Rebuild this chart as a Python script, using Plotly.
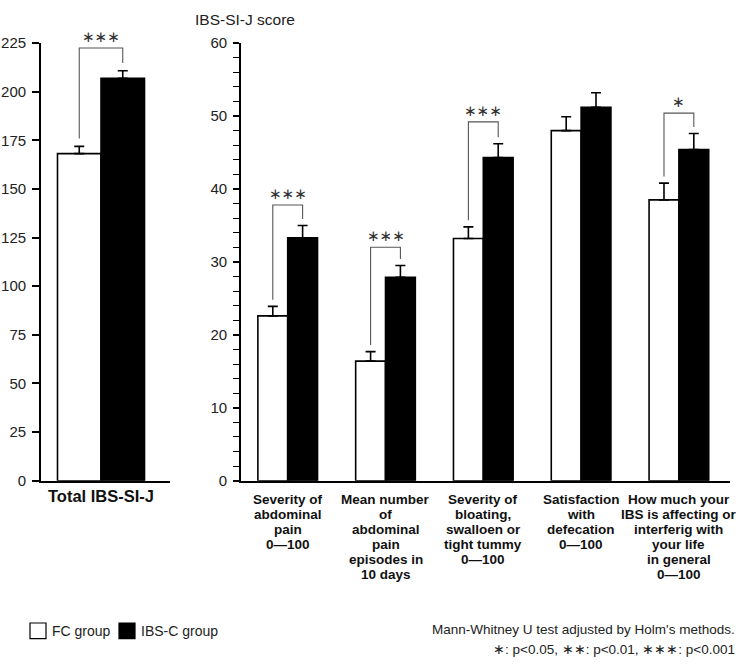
import plotly.graph_objects as go

W, H = 749, 669


def px(x):
    return x / W


def py(y):
    return 1 - y / H


FONT = "Arial, 'Liberation Sans', sans-serif"
STARFONT = "'DejaVu Sans', sans-serif"

# ---------------- data ----------------
group_names = ["FC group", "IBS-C group"]
group_fill = ["white", "black"]

total_categories = ["Total IBS-SI-J"]
total_fc = [168.2]
total_fc_err = [3.7]
total_ibs = [206.9]
total_ibs_err = [3.9]
total_bracket_top = [222.5]
total_sig = ["∗∗∗"]

sub_categories = [
    ["Severity of", "abdominal", "pain", "0—100"],
    ["Mean number", "of", "abdominal", "pain", "episodes in", "10 days"],
    ["Severity of", "bloating,", "swalloen or", "tight tummy", "0—100"],
    ["Satisfaction", "with", "defecation", "0—100"],
    ["How much your", "IBS is affecting or", "interferig with", "your life", "in general", "0—100"],
]
sub_fc = [22.6, 16.4, 33.2, 48.0, 38.5]
sub_fc_err = [1.3, 1.3, 1.6, 1.9, 2.3]
sub_ibs = [33.3, 27.9, 44.3, 51.2, 45.4]
sub_ibs_err = [1.7, 1.6, 1.9, 2.0, 2.2]
sub_bracket_top = [37.8, 32.0, 49.2, None, 50.4]
sub_sig = ["∗∗∗", "∗∗∗", "∗∗∗", "", "∗"]

left_ticks = [0, 25, 50, 75, 100, 125, 150, 175, 200, 225]
right_ticks = [0, 10, 20, 30, 40, 50, 60]

y_title = "IBS-SI-J score"
note_lines = [
    "Mann-Whitney U test adjusted by Holm's methods.",
    "∗: p&lt;0.05, ∗∗: p&lt;0.01, ∗∗∗: p&lt;0.001",
]

BARGAP = 0.39
half = (1 - BARGAP) / 4  # offset of each bar centre from category centre

fig = go.Figure()


def add_bars(xs, fc, fc_err, ibs, ibs_err, xa, ya):
    for name, fill, vals, errs in ((group_names[0], group_fill[0], fc, fc_err),
                                   (group_names[1], group_fill[1], ibs, ibs_err)):
        fig.add_trace(go.Bar(
            x=xs, y=vals, name=name, xaxis=xa, yaxis=ya,
            marker=dict(color=fill, line=dict(color="black", width=1.6)),
            error_y=dict(type="data", symmetric=False, array=errs,
                         arrayminus=[0] * len(vals), color="black",
                         thickness=1.6, width=5),
            showlegend=False, hoverinfo="skip",
        ))


left_x = list(range(len(total_categories)))
right_x = list(range(len(sub_categories)))
add_bars(left_x, total_fc, total_fc_err, total_ibs, total_ibs_err, "x", "y")
add_bars(right_x, sub_fc, sub_fc_err, sub_ibs, sub_ibs_err, "x2", "y2")

shapes = []
annotations = []


def add_brackets(xs, fc, fc_err, ibs, ibs_err, tops, sigs, xref, yref, gap):
    for i, top in enumerate(tops):
        if top is None:
            continue
        xl = xs[i] - half
        xr = xs[i] + half
        yl = fc[i] + fc_err[i] + gap
        yr = ibs[i] + ibs_err[i] + gap
        shapes.append(dict(
            type="path", xref=xref, yref=yref,
            path=f"M {xl} {yl} L {xl} {top} L {xr} {top} L {xr} {yr}",
            line=dict(color="#555555", width=1.1),
        ))
        annotations.append(dict(
            x=xs[i], y=top, xref=xref, yref=yref, text=sigs[i],
            showarrow=False, yanchor="bottom", yshift=0,
            font=dict(family=STARFONT, size=15, color="#333333"),
        ))


add_brackets(left_x, total_fc, total_fc_err, total_ibs, total_ibs_err,
             total_bracket_top, total_sig, "x", "y", 4)
add_brackets(right_x, sub_fc, sub_fc_err, sub_ibs, sub_ibs_err,
             sub_bracket_top, sub_sig, "x2", "y2", 0.9)

# category labels of right panel (multi-line, tight line spacing)
for i, lines in enumerate(sub_categories):
    for j, line in enumerate(lines):
        annotations.append(dict(
            x=right_x[i], y=py(503 + 15.5 * j), xref="x2", yref="paper",
            text=f"<b>{line}</b>", showarrow=False,
            xanchor="center", yanchor="middle",
            font=dict(family=FONT, size=13.5, color="#111111"),
        ))

annotations.append(dict(
    x=px(193), y=py(11), xref="paper", yref="paper", text=y_title,
    showarrow=False, xanchor="left", yanchor="middle",
    font=dict(family=FONT, size=15.5, color="#222222"),
))
for k, line in enumerate(note_lines):
    annotations.append(dict(
        x=px(737), y=py(637 + 20 * k), xref="paper", yref="paper",
        text=line, showarrow=False, xanchor="right", yanchor="middle",
        font=dict(family=FONT, size=13.5, color="#222222"),
    ))

# manual legend
legend_x = [30, 119]
for k, name in enumerate(group_names):
    shapes.append(dict(
        type="rect", xref="paper", yref="paper",
        x0=px(legend_x[k]), x1=px(legend_x[k] + 16), y0=py(646), y1=py(630),
        fillcolor=group_fill[k], line=dict(color="black", width=1.2),
    ))
    annotations.append(dict(
        x=px(legend_x[k] + 20), y=py(638), xref="paper", yref="paper",
        text=name, showarrow=False, xanchor="left", yanchor="middle",
        font=dict(family=FONT, size=14, color="#222222"),
    ))

ydom = [py(484), py(35)]
axis_common = dict(showline=True, linecolor="black", linewidth=1.8,
                   showgrid=False, zeroline=False, mirror=False)

unit_left = 87 / (1 - BARGAP)
unit_right = 97.8

fig.update_layout(
    width=W, height=H,
    margin=dict(l=0, r=0, t=0, b=0),
    paper_bgcolor="white", plot_bgcolor="white",
    barmode="group", bargap=BARGAP, bargroupgap=0,
    showlegend=False,
    font=dict(family=FONT, size=14, color="#222222"),
    xaxis=dict(
        domain=[px(41), px(170)],
        range=[-(101 - 41) / unit_left, (170 - 101) / unit_left],
        tickvals=left_x,
        ticktext=[f"<b>{c}</b>" for c in total_categories],
        ticks="", tickfont=dict(family=FONT, size=16.5, color="#111111"),
        anchor="y", **axis_common,
    ),
    yaxis=dict(
        domain=ydom, range=[0, 225], tickvals=left_ticks,
        ticks="outside", ticklen=7, tickwidth=1.6, tickcolor="black",
        ticklabelstandoff=3,
        tickfont=dict(family=FONT, size=15, color="#222222"),
        anchor="x", **axis_common,
    ),
    xaxis2=dict(
        domain=[px(241), px(730)],
        range=[-(287.7 - 241) / unit_right, (730 - 287.7) / unit_right],
        tickvals=right_x, showticklabels=False, ticks="",
        anchor="y2", **axis_common,
    ),
    yaxis2=dict(
        domain=ydom, range=[0, 60], tickvals=right_ticks,
        ticks="outside", ticklen=6, tickwidth=1.6, tickcolor="black",
        ticklabelstandoff=3,
        minor=dict(dtick=2, ticks="outside", ticklen=6, tickwidth=1.4, tickcolor="black"),
        tickfont=dict(family=FONT, size=15, color="#222222"),
        anchor="x2", **axis_common,
    ),
    shapes=shapes,
    annotations=annotations,
)

fig.write_html("out.html", config={"displayModeBar": False},
               post_script="document.body.style.margin='0';")
